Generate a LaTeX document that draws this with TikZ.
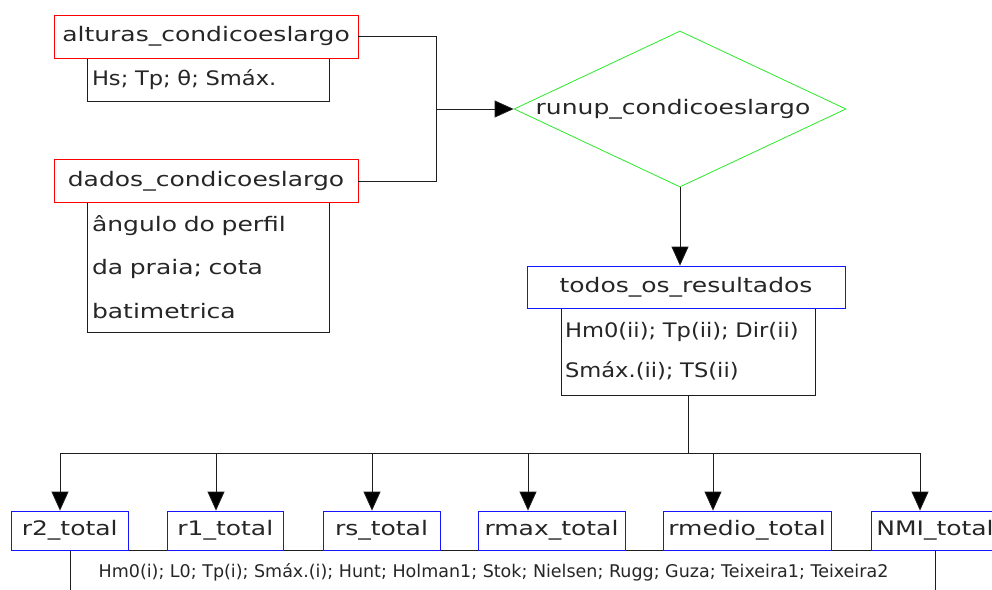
\documentclass[tikz,border=0pt]{standalone}
\usepackage{fontspec}
\newfontfamily\cadfont{DejaVu Sans}[FakeStretch=1.25]
\newfontfamily\cadmid{DejaVu Sans}[FakeStretch=1.13]
\newfontfamily\cadnarrow{DejaVu Sans}[FakeStretch=1.0]
\usetikzlibrary{shapes.geometric,arrows.meta}
\definecolor{cadred}{RGB}{255,0,0}
\definecolor{cadgreen}{RGB}{40,235,40}
\definecolor{cadblue}{RGB}{20,20,255}
\definecolor{cadline}{RGB}{30,30,30}
\tikzset{
  lbl/.style={font=\cadfont\fontsize{20}{24}\selectfont,text=black!85},
  redbox/.style={rectangle,draw=cadred,fill=white,lbl,inner sep=0pt,
    minimum width=304pt,minimum height=43pt},
  bluebox/.style={rectangle,draw=cadblue,fill=white,lbl,inner sep=0pt,
    minimum height=39pt},
  infobox/.style={rectangle,draw=cadline,fill=white,lbl,inner ysep=0pt,
    align=left},
  wire/.style={draw=cadline},
  tip/.style={wire,-{Triangle[length=19pt,width=17pt,fill=black]}}
}
\begin{document}
\begin{tikzpicture}[x=1pt,y=-1pt,line width=0.8pt]
  \useasboundingbox (0,0) rectangle (992,589);

  \node[infobox,inner xsep=5pt,text width=232pt,minimum height=43pt,
    font=\cadmid\fontsize{20}{24}\selectfont]
  (hsinfo) at (208,79.5) {Hs; Tp; θ; Smáx.};
  \node[infobox,inner xsep=5pt,text width=232pt,minimum height=130pt,
    font=\cadfont\fontsize{20}{43.5}\selectfont]
  (perfil) at (208,267) {ângulo do perfil\\da praia; cota\\batimetrica};
  \node[infobox,inner xsep=4pt,text width=246pt,minimum height=87pt,
    font=\cadmid\fontsize{20}{40}\selectfont]
  (resinfo) at (688,351.5) {Hm0(ii); Tp(ii); Dir(ii)\\Smáx.(ii); TS(ii)};
  \node[rectangle,draw=cadline,fill=white,inner sep=0pt,
    minimum width=865pt,minimum height=45pt,
    font=\cadnarrow\fontsize{17.5}{20}\selectfont,text=black!85]
  (lista) at (502.5,572.5) {Hm0(i); L0; Tp(i); Smáx.(i); Hunt; Holman1; Stok; Nielsen; Rugg; Guza; Teixeira1; Teixeira2\hspace*{18pt}\mbox{}};

  \node[redbox]
  (alturas) at (206,36.7) {alturas\_condicoeslargo};
  \node[redbox]
  (dados) at (206,181.3) {dados\_condicoeslargo};
  \node[diamond,draw=cadgreen,lbl,inner sep=0pt,aspect=2.13,
    minimum width=332pt,minimum height=156pt]
  (runup) at (680,109) {runup\_condicoeslargo\hspace*{14pt}\mbox{}};
  \node[bluebox,minimum width=318pt,minimum height=42pt]
  (todos) at (686,287) {todos\_os\_resultados};

  \node[bluebox,minimum width=117.5pt]
  (rdois) at (69.7,530.5) {r2\_total};
  \node[bluebox,minimum width=116.5pt]
  (rum) at (225.3,530.5) {r1\_total};
  \node[bluebox,minimum width=117pt]
  (rs) at (381.5,530.5) {rs\_total};
  \node[bluebox,minimum width=147pt]
  (rmax) at (551.5,530.5) {rmax\_total};
  \node[bluebox,minimum width=168pt]
  (rmedio) at (747,530.5) {rmedio\_total};
  \node[bluebox,minimum width=128pt]
  (nmi) at (935,530.5) {NMI\_total};

  \coordinate (jin) at (436,109);
  \coordinate (jout) at (688,453);
  \coordinate (b1) at (60,453);
  \coordinate (b2) at (216,453);
  \coordinate (b3) at (372,453);
  \coordinate (b4) at (528,453);
  \coordinate (b5) at (713,453);
  \coordinate (b6) at (920,453);

  \draw[wire] (alturas.east) -| (jin);
  \draw[wire] (dados.east) -| (jin);
  \draw[tip] (jin) -- (runup.west);
  \draw[tip] (runup.south) -- (runup.south |- todos.north);
  \draw[wire] (resinfo.south) -- (jout);
  \draw[wire] (b1) -- (b6);
  \draw[tip] (b1) -- (b1 |- rdois.north);
  \draw[tip] (b2) -- (b2 |- rum.north);
  \draw[tip] (b3) -- (b3 |- rs.north);
  \draw[tip] (b4) -- (b4 |- rmax.north);
  \draw[tip] (b5) -- (b5 |- rmedio.north);
  \draw[tip] (b6) -- (b6 |- nmi.north);
\end{tikzpicture}
\end{document}
